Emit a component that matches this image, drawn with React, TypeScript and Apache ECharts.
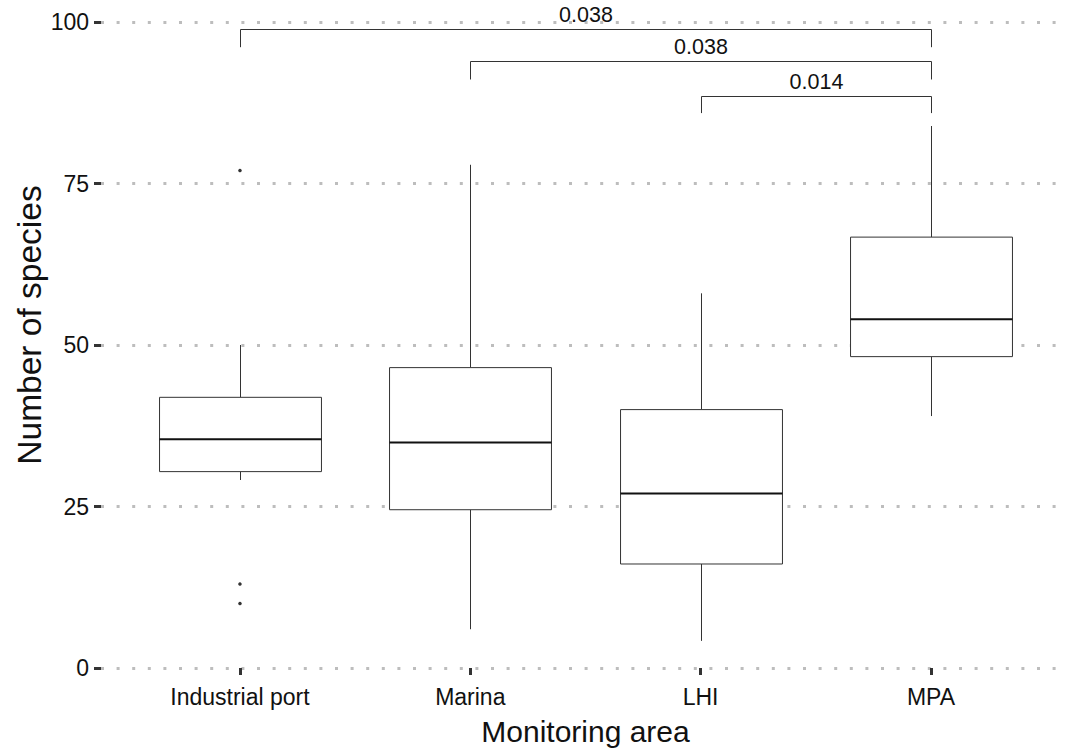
import React, { useEffect, useRef } from "react";
import * as echarts from "echarts";

const categories = ["Industrial port", "Marina", "LHI", "MPA"];
const whiskerLow = [29.1, 6.0, 4.2, 39.0];
const quartile1 = [30.4, 24.5, 16.1, 48.2];
const medians = [35.4, 34.9, 27.0, 54.0];
const quartile3 = [41.9, 46.5, 40.0, 66.7];
const whiskerHigh = [50.0, 77.9, 58.0, 83.9];

const outlierCategory = [0, 0, 0];
const outlierValues = [77, 13, 10];

const bracketStart = [0, 1, 2];
const bracketEnd = [3, 3, 3];
const bracketHeight = [98.9, 94.0, 88.6];
const bracketTipEnd = [96.1, 91.1, 85.9];
const bracketLabels = ["0.038", "0.038", "0.014"];

const yMin = 0;
const yMax = 100;
const yInterval = 25;

const FONT = "'Liberation Sans', Arial, Helvetica, sans-serif";

export default function App() {
  const ref = useRef<HTMLDivElement>(null);

  useEffect(() => {
    if (!ref.current) return;
    const chart = echarts.init(ref.current, undefined, { renderer: "svg" });

    const boxData = categories.map((_, i) => [
      i,
      whiskerLow[i],
      quartile1[i],
      medians[i],
      quartile3[i],
      whiskerHigh[i],
    ]);
    const outlierData = outlierValues.map((v, i) => [outlierCategory[i], v]);
    const bracketData = bracketStart.map((s, i) => [s, bracketEnd[i], bracketHeight[i], bracketTipEnd[i]]);

    const top = 22;
    const height = 646;

    const option: any = {
      animation: false,
      backgroundColor: "#ffffff",
      grid: [
        { left: 101, right: 0, top, height, containLabel: false },
        { left: 124.8, width: 921.3, top, height, containLabel: false },
      ],
      xAxis: [
        { gridIndex: 0, type: "value", min: 0, max: 1, show: false },
        {
          gridIndex: 1,
          type: "category",
          data: categories,
          offset: 4,
          axisLine: { show: false },
          axisTick: { show: true, alignWithLabel: true, length: 7, lineStyle: { color: "#333", width: 3 } },
          axisLabel: { fontSize: 23, color: "#111", margin: 13, fontFamily: FONT },
          splitLine: { show: false },
        },
      ],
      yAxis: [
        {
          gridIndex: 0,
          type: "value",
          min: yMin,
          max: yMax,
          interval: yInterval,
          axisLine: { show: false },
          axisTick: { show: true, length: 7, lineStyle: { color: "#333", width: 3 } },
          axisLabel: { fontSize: 23, color: "#111", margin: 12, fontFamily: FONT },
          splitLine: {
            show: true,
            lineStyle: { color: "#bdbdbd", width: 3, type: [3, 12.6], cap: "butt" },
          },
        },
        { gridIndex: 1, type: "value", min: yMin, max: yMax, interval: yInterval, show: false, splitLine: { show: false } },
      ],
      graphic: [
        {
          type: "text",
          x: 585.5,
          y: 731,
          style: {
            text: "Monitoring area",
            fontSize: 30,
            fontFamily: FONT,
            fill: "#111",
            align: "center",
            verticalAlign: "middle",
          },
        },
        {
          type: "text",
          x: 29,
          y: 325,
          rotation: Math.PI / 2,
          style: {
            text: "Number of species",
            fontSize: 33.5,
            fontFamily: FONT,
            fill: "#111",
            align: "center",
            verticalAlign: "middle",
          },
        },
      ],
      series: [
        {
          type: "custom",
          xAxisIndex: 1,
          yAxisIndex: 1,
          data: boxData,
          encode: { x: 0, y: [1, 2, 3, 4, 5] },
          z: 3,
          renderItem: (params: any, api: any) => {
            const idx = api.value(0);
            const pMin = api.coord([idx, api.value(1)]);
            const pQ1 = api.coord([idx, api.value(2)]);
            const pMed = api.coord([idx, api.value(3)]);
            const pQ3 = api.coord([idx, api.value(4)]);
            const pMax = api.coord([idx, api.value(5)]);
            const bw = api.size([1, 0])[0] * 0.703;
            const cx = Math.round(pMed[0]) + 0.5;
            const x0 = cx - bw / 2;
            const x1 = cx + bw / 2;
            const lineStyle = { stroke: "#333", lineWidth: 1, fill: null };
            return {
              type: "group",
              children: [
                { type: "line", shape: { x1: cx, y1: pMax[1], x2: cx, y2: pQ3[1] }, style: lineStyle },
                { type: "line", shape: { x1: cx, y1: pQ1[1], x2: cx, y2: pMin[1] }, style: lineStyle },
                {
                  type: "rect",
                  shape: { x: x0, y: pQ3[1], width: bw, height: pQ1[1] - pQ3[1] },
                  style: { stroke: "#333", lineWidth: 1, fill: "#ffffff" },
                },
                {
                  type: "line",
                  shape: { x1: x0, y1: pMed[1], x2: x1, y2: pMed[1] },
                  style: { stroke: "#111", lineWidth: 2 },
                },
              ],
            };
          },
        },
        {
          type: "scatter",
          xAxisIndex: 1,
          yAxisIndex: 1,
          data: outlierData,
          symbol: "circle",
          symbolSize: 3.5,
          itemStyle: { color: "#000" },
          z: 4,
        },
        {
          type: "custom",
          xAxisIndex: 1,
          yAxisIndex: 1,
          data: bracketData,
          encode: { x: [0, 1], y: [2, 3] },
          clip: false,
          z: 5,
          renderItem: (params: any, api: any) => {
            const s = api.coord([api.value(0), api.value(2)]);
            const e = api.coord([api.value(1), api.value(2)]);
            const tipY = api.coord([api.value(0), api.value(3)])[1];
            const sx = Math.round(s[0]) + 0.5;
            const ex = Math.round(e[0]) + 0.5;
            const by = Math.round(s[1]) + 0.5;
            return {
              type: "group",
              children: [
                {
                  type: "polyline",
                  shape: { points: [[sx, tipY], [sx, by], [ex, by], [ex, tipY]] },
                  style: { stroke: "#333", lineWidth: 1, fill: null },
                },
                {
                  type: "text",
                  x: (sx + ex) / 2,
                  y: by - 4,
                  style: {
                    text: bracketLabels[params.dataIndex],
                    fontSize: 21.5,
                    fontFamily: FONT,
                    fill: "#111",
                    align: "center",
                    verticalAlign: "bottom",
                  },
                },
              ],
            };
          },
        },
      ],
    };

    chart.setOption(option);
    return () => chart.dispose();
  }, []);

  return (
    <div
      ref={ref}
      style={{ position: "absolute", left: 0, top: 0, width: 1067, height: 751, background: "#fff" }}
    />
  );
}
